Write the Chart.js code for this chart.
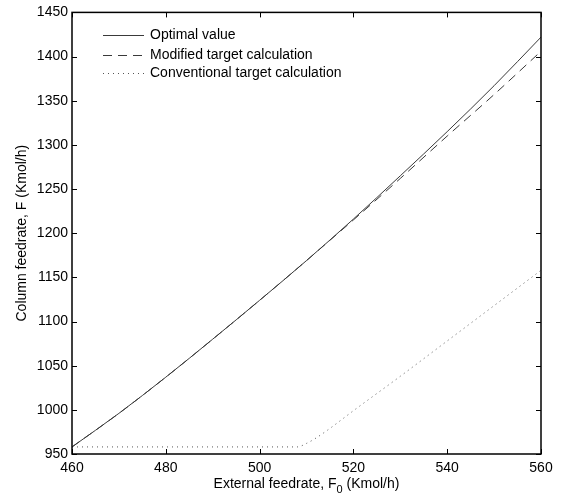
<!DOCTYPE html>
<html>
<head>
<meta charset="utf-8">
<script src="https://cdn.jsdelivr.net/npm/chart.js@4/dist/chart.umd.min.js"></script>
<style>
  html, body { margin: 0; padding: 0; background: #fff; }
  #wrap { width: 562px; height: 497px; }
</style>
</head>
<body>
<div id="wrap"><canvas id="chart" width="562" height="497"></canvas></div>
<script>
// values
var optimalX = [460, 470, 480, 490, 500, 510, 520, 530, 540, 550, 560];
var optimalY = [958, 996, 1037, 1080, 1124, 1169, 1216, 1265, 1315, 1367, 1422];

var modifiedX = [460, 470, 480, 490, 500, 510, 515, 520, 530, 540, 550, 560];
var modifiedY = [958, 996, 1037, 1080, 1124, 1169, 1192, 1215, 1262, 1310, 1357, 1406];

var conventionalX = [460, 480, 500, 508, 510, 512, 515, 520, 530, 540, 550, 560];
var conventionalY = [958, 958, 958, 958, 962, 968, 979, 999, 1038, 1078, 1118, 1158];

var xTicks = [460, 480, 500, 520, 540, 560];
var yTicks = [950, 1000, 1050, 1100, 1150, 1200, 1250, 1300, 1350, 1400, 1450];

var seriesNames = ["Optimal value", "Modified target calculation", "Conventional target calculation"];

function toPoints(xs, ys) {
  return xs.map(function (x, i) {
    return { x: x, y: ys[i] };
  });
}

var FONT = "Liberation Sans, Arial, Helvetica, sans-serif";

// box, inward ticks on all sides, legend inside, axis titles
var matlabFrame = {
  id: "matlabFrame",
  afterDraw: function (chart) {
    var ctx = chart.ctx;
    var a = chart.chartArea;
    var xs = chart.scales.x;
    var ys = chart.scales.y;
    ctx.save();
    ctx.strokeStyle = "#000";
    ctx.lineWidth = 1;
    xTicks.forEach(function (v) {
      var px = Math.round(xs.getPixelForValue(v)) + 0.5;
      ctx.beginPath();
      ctx.moveTo(px, a.bottom); ctx.lineTo(px, a.bottom - 5);
      ctx.moveTo(px, a.top); ctx.lineTo(px, a.top + 5);
      ctx.stroke();
    });
    yTicks.forEach(function (v) {
      var py = Math.round(ys.getPixelForValue(v)) + 0.5;
      ctx.beginPath();
      ctx.moveTo(a.left, py); ctx.lineTo(a.left + 5, py);
      ctx.moveTo(a.right, py); ctx.lineTo(a.right - 5, py);
      ctx.stroke();
    });
    ctx.lineWidth = 1.5;
    ctx.strokeRect(a.left, a.top, a.right - a.left, a.bottom - a.top);

    // legend
    ctx.font = "14px " + FONT;
    ctx.textBaseline = "middle";
    ctx.fillStyle = "#000";
    var rows = [35, 55, 73];
    chart.data.datasets.forEach(function (ds, i) {
      ctx.save();
      ctx.strokeStyle = ds.borderColor;
      ctx.lineWidth = ds.borderWidth;
      ctx.setLineDash(ds.borderDash || []);
      ctx.beginPath();
      ctx.moveTo(103, rows[i] + 0.5);
      ctx.lineTo(144, rows[i] + 0.5);
      ctx.stroke();
      ctx.restore();
      ctx.fillText(seriesNames[i], 150, rows[i]);
    });

    // x title with subscript
    var part1 = "External feedrate, F";
    var part2 = "0";
    var part3 = " (Kmol/h)";
    ctx.font = "14px " + FONT;
    var w1 = ctx.measureText(part1).width;
    var w3 = ctx.measureText(part3).width;
    ctx.font = "11px " + FONT;
    var w2 = ctx.measureText(part2).width;
    var total = w1 + w2 + w3;
    var cx = (a.left + a.right) / 2;
    var sx = cx - total / 2;
    var by = 488;
    ctx.textBaseline = "alphabetic";
    ctx.textAlign = "left";
    ctx.font = "14px " + FONT;
    ctx.fillText(part1, sx, by);
    ctx.font = "11px " + FONT;
    ctx.fillText(part2, sx + w1, by + 5);
    ctx.font = "14px " + FONT;
    ctx.fillText(part3, sx + w1 + w2, by);

    // y title
    ctx.save();
    ctx.translate(22, (a.top + a.bottom) / 2);
    ctx.rotate(-Math.PI / 2);
    ctx.textAlign = "center";
    ctx.textBaseline = "middle";
    ctx.fillText("Column feedrate, F (Kmol/h)", 0, 0);
    ctx.restore();
    ctx.restore();
  }
};

new Chart(document.getElementById("chart").getContext("2d"), {
  type: "scatter",
  data: {
    datasets: [
      {
        label: seriesNames[0],
        data: toPoints(optimalX, optimalY),
        showLine: true,
        borderColor: "#3a3a3a",
        borderWidth: 1,
        pointRadius: 0,
        cubicInterpolationMode: "monotone",
      },
      {
        label: seriesNames[1],
        data: toPoints(modifiedX, modifiedY),
        showLine: true,
        borderColor: "#3a3a3a",
        borderWidth: 1,
        borderDash: [9, 6],
        pointRadius: 0,
        cubicInterpolationMode: "monotone",
      },
      {
        label: seriesNames[2],
        data: toPoints(conventionalX, conventionalY),
        showLine: true,
        borderColor: "#555555",
        borderWidth: 1,
        borderDash: [1, 4],
        pointRadius: 0,
        cubicInterpolationMode: "monotone",
      },
    ],
  },
  options: {
    responsive: false,
    animation: false,
    layout: { padding: { left: 0, right: 21, top: 9, bottom: 0 } },
    plugins: {
      legend: { display: false },
      tooltip: { enabled: false },
    },
    scales: {
      x: {
        type: "linear",
        min: 460,
        max: 560,
        afterFit: function (scale) { scale.height = 43; },
        afterBuildTicks: function (scale) {
          scale.ticks = xTicks.map(function (v) { return { value: v }; });
        },
        grid: { display: false, drawTicks: false },
        border: { display: false },
        ticks: {
          color: "#000",
          font: { family: FONT, size: 14 },
          padding: 6,
          maxRotation: 0,
          callback: function (value) { return String(value); },
        },
      },
      y: {
        type: "linear",
        min: 950,
        max: 1450,
        afterFit: function (scale) { scale.width = 72; },
        afterBuildTicks: function (scale) {
          scale.ticks = yTicks.map(function (v) { return { value: v }; });
        },
        grid: { display: false, drawTicks: false },
        border: { display: false },
        ticks: {
          color: "#000",
          font: { family: FONT, size: 14 },
          padding: 4,
          callback: function (value) { return String(value); },
        },
      },
    },
  },
  plugins: [matlabFrame],
});
</script>
</body>
</html>
